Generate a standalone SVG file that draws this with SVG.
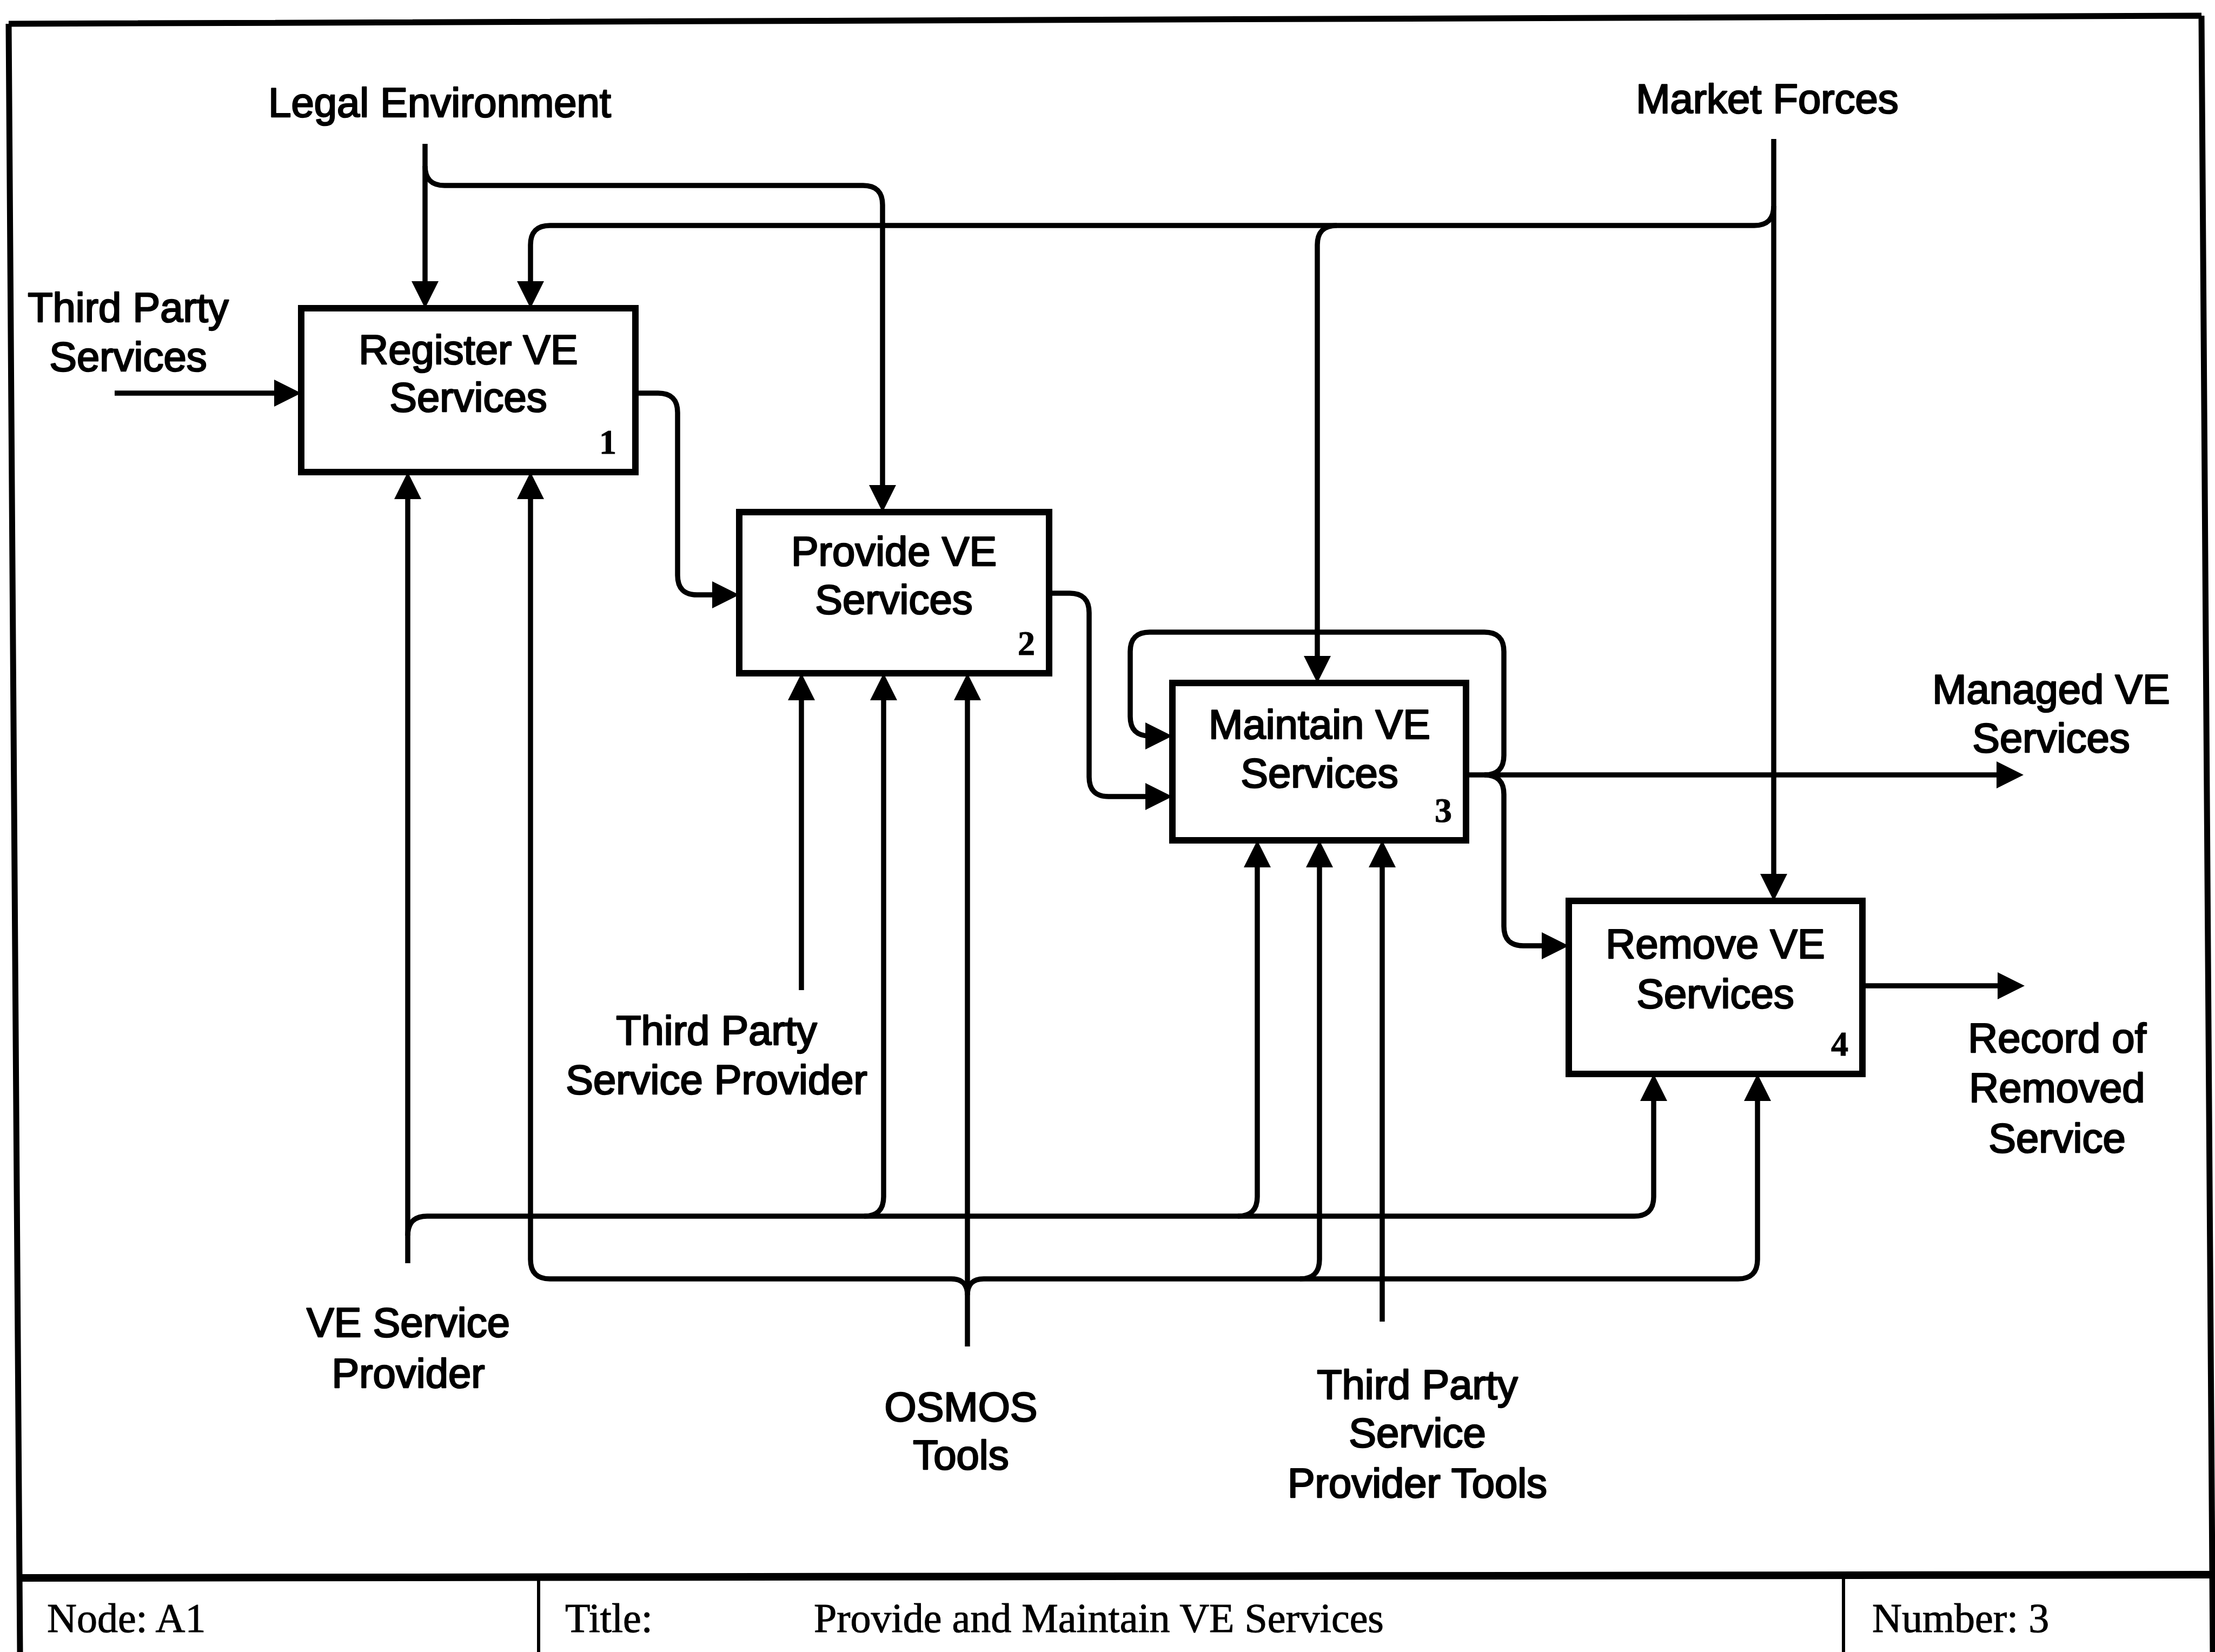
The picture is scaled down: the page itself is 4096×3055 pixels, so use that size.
<svg xmlns="http://www.w3.org/2000/svg" width="4096" height="3055" viewBox="0 0 4096 3055">
  <style>
    .lbl { font-family: "Liberation Sans", Arial, sans-serif; font-size: 76px; fill: #000; stroke: #000; stroke-width: 2.6; stroke-linejoin: round; text-anchor: middle; }
    .num { font-family: "Liberation Serif", "Times New Roman", serif; font-weight: bold; font-size: 64px; fill: #000; stroke: #000; stroke-width: 1; text-anchor: middle; }
    .ttl { font-family: "Liberation Serif", "Times New Roman", serif; font-size: 76px; fill: #000; stroke: #000; stroke-width: 1; }
    .box { fill: #fff; stroke: #000; stroke-width: 12; }
    .wire { fill: none; stroke: #000; stroke-width: 9.5; stroke-linejoin: round; }
    .arr { marker-end: url(#ah); }
    .frame { fill: none; stroke: #000; stroke-width: 11; }
  </style>
  <defs>
    <marker id="ah" markerUnits="userSpaceOnUse" viewBox="0 0 50 50" markerWidth="50" markerHeight="50" refX="20" refY="25" orient="auto">
      <path d="M0,0 L50,25 L0,50 z" fill="#000"/>
    </marker>
  </defs>

  <rect width="4096" height="3055" fill="#fff"/>

  <!-- sheet frame and title block -->
  <g id="frame">
    <path class="frame" d="M16,44 L4071,29 M16,44 L37,3055 M4071,29 L4092,3055"/>
    <path d="M34,2918 L4090,2912" stroke="#000" stroke-width="14" fill="none"/>
    <path d="M996,2918 V3055 M3409,2912 V3055" stroke="#000" stroke-width="6" fill="none"/>
    <text class="ttl" x="87" y="3018">Node: A1</text>
    <text class="ttl" x="1045" y="3018">Title:</text>
    <text class="ttl" x="1505" y="3018">Provide and Maintain VE Services</text>
    <text class="ttl" x="3462" y="3018">Number: 3</text>
  </g>

  <!-- connectors -->
  <g id="connectors">
    <!-- Legal Environment -->
    <path class="wire arr" d="M786,266 V540"/>
    <path class="wire arr" d="M786,307 Q786,343 822,343 H1596 Q1632,343 1632,379 V917"/>
    <!-- Market Forces -->
    <path class="wire arr" d="M3280,257 V1636"/>
    <path class="wire arr" d="M3280,381 Q3280,417 3244,417 H1017 Q981,417 981,453 V540"/>
    <path class="wire arr" d="M2472,417 Q2436,417 2436,453 V1233"/>
    <!-- Third Party Services -->
    <path class="wire arr" d="M212,727 H527"/>
    <!-- 1 to 2 -->
    <path class="wire arr" d="M1175,727 H1217 Q1253,727 1253,763 V1064 Q1253,1100 1289,1100 H1337"/>
    <!-- 2 to 3 -->
    <path class="wire arr" d="M1940,1097 H1978 Q2014,1097 2014,1133 V1437 Q2014,1473 2050,1473 H2138"/>
    <!-- 3 outputs: Managed VE Services, feedback, to 4 -->
    <path class="wire arr" d="M2711,1433 H3712"/>
    <path class="wire arr" d="M2745,1433 Q2781,1433 2781,1397 V1205 Q2781,1169 2745,1169 H2126 Q2090,1169 2090,1205 V1325 Q2090,1361 2126,1361 H2138"/>
    <path class="wire arr" d="M2745,1433 Q2781,1433 2781,1469 V1713 Q2781,1749 2817,1749 H2871"/>
    <!-- 4 output: Record of Removed Service -->
    <path class="wire arr" d="M3444,1823 H3714"/>
    <!-- VE Service Provider -->
    <path class="wire arr" d="M754,2336 V903"/>
    <path class="wire arr" d="M754,2285 Q754,2249 790,2249 H3022 Q3058,2249 3058,2213 V2016"/>
    <path class="wire arr" d="M1598,2249 Q1634,2249 1634,2213 V1275"/>
    <path class="wire arr" d="M2289,2249 Q2325,2249 2325,2213 V1584"/>
    <!-- OSMOS Tools -->
    <path class="wire arr" d="M1789,2490 V1275"/>
    <path class="wire arr" d="M1789,2395 Q1789,2365 1759,2365 H1017 Q981,2365 981,2329 V903"/>
    <path class="wire arr" d="M1789,2395 Q1789,2365 1819,2365 H3214 Q3250,2365 3250,2329 V2016"/>
    <path class="wire arr" d="M2404,2365 Q2440,2365 2440,2329 V1584"/>
    <!-- Third Party Service Provider -->
    <path class="wire arr" d="M1482,1831 V1275"/>
    <!-- Third Party Service Provider Tools -->
    <path class="wire arr" d="M2556,2444 V1584"/>
  </g>

  <!-- activity boxes -->
  <g id="a1-register">
    <rect class="box" x="557" y="570" width="618" height="303"/>
    <text class="lbl" x="866" y="673">Register VE</text>
    <text class="lbl" x="866" y="761">Services</text>
    <text class="num" x="1124" y="839">1</text>
  </g>
  <g id="a2-provide">
    <rect class="box" x="1367" y="947" width="573" height="298"/>
    <text class="lbl" x="1653" y="1046">Provide VE</text>
    <text class="lbl" x="1653" y="1135">Services</text>
    <text class="num" x="1898" y="1211">2</text>
  </g>
  <g id="a3-maintain">
    <rect class="box" x="2168" y="1263" width="543" height="291"/>
    <text class="lbl" x="2440" y="1366">Maintain VE</text>
    <text class="lbl" x="2440" y="1456">Services</text>
    <text class="num" x="2669" y="1520">3</text>
  </g>
  <g id="a4-remove">
    <rect class="box" x="2901" y="1666" width="543" height="320"/>
    <text class="lbl" x="3172" y="1772">Remove VE</text>
    <text class="lbl" x="3172" y="1864">Services</text>
    <text class="num" x="3402" y="1952">4</text>
  </g>

  <!-- boundary arrow labels -->
  <g id="labels">
    <text class="lbl" x="813" y="216">Legal Environment</text>
    <text class="lbl" x="3268" y="209">Market Forces</text>
    <text class="lbl" x="237" y="595">Third Party</text>
    <text class="lbl" x="237" y="686">Services</text>
    <text class="lbl" x="3793" y="1301">Managed VE</text>
    <text class="lbl" x="3793" y="1391">Services</text>
    <text class="lbl" x="3804" y="1946">Record of</text>
    <text class="lbl" x="3804" y="2038">Removed</text>
    <text class="lbl" x="3804" y="2131">Service</text>
    <text class="lbl" x="1325" y="1932">Third Party</text>
    <text class="lbl" x="1325" y="2023">Service Provider</text>
    <text class="lbl" x="755" y="2472">VE Service</text>
    <text class="lbl" x="755" y="2566">Provider</text>
    <text class="lbl" x="1777" y="2628">OSMOS</text>
    <text class="lbl" x="1777" y="2717">Tools</text>
    <text class="lbl" x="2621" y="2587">Third Party</text>
    <text class="lbl" x="2621" y="2676">Service</text>
    <text class="lbl" x="2621" y="2769">Provider Tools</text>
  </g>
</svg>
